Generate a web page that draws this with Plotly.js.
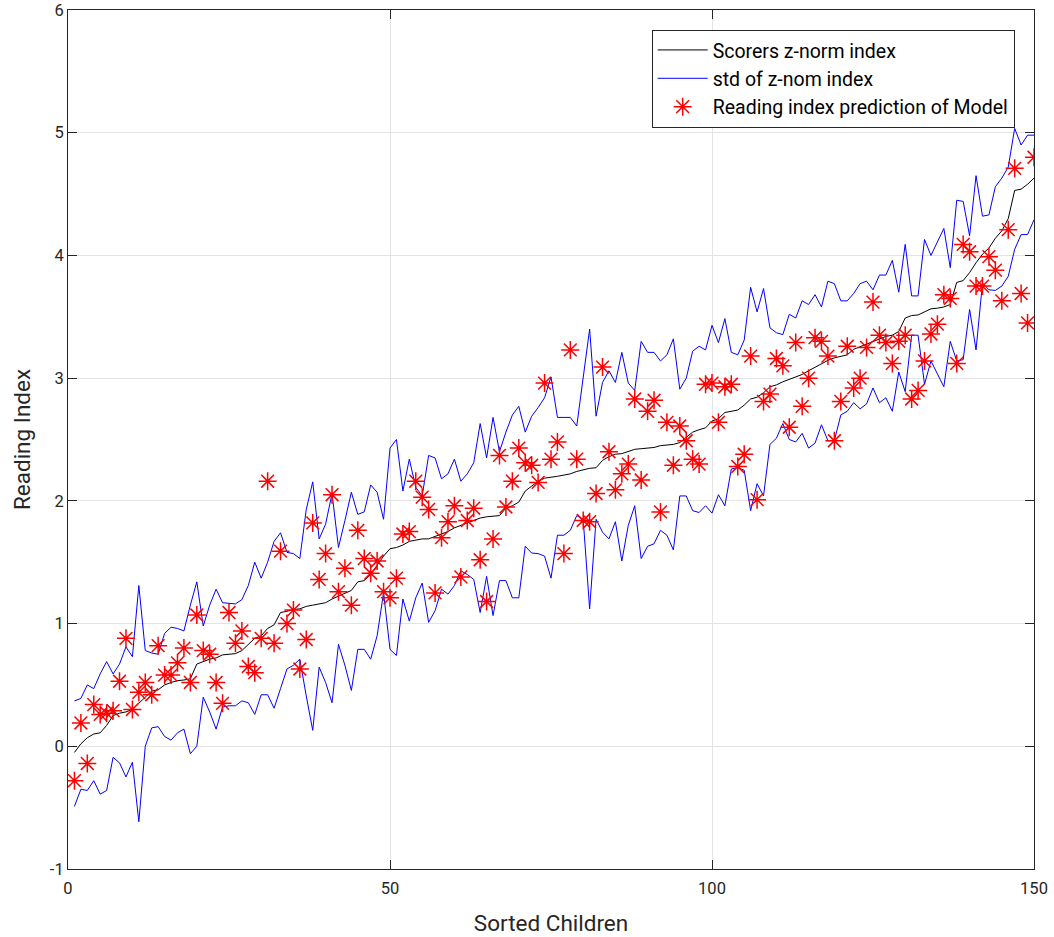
<!DOCTYPE html>
<html>
<head>
<meta charset="utf-8">
<script src="https://cdn.plot.ly/plotly-3.0.1.min.js"></script>
<style>html,body{margin:0;padding:0;background:#fff}#chart{width:1054px;height:937px}</style>
</head>
<body>
<div id="chart"></div>
<script>
// Sorted children index 1..150
const childIndex = Array.from({length: 150}, (_, k) => k + 1);

// Scorers z-norm index (black line)
const zNormIndex = [
-0.05,0.02,0.07,0.10,0.11,0.17,0.25,0.27,0.28,0.30,
0.35,0.40,0.45,0.46,0.50,0.52,0.535,0.54,0.55,0.67,
0.69,0.71,0.72,0.745,0.75,0.755,0.78,0.83,0.88,0.90,
0.96,0.99,1.09,1.10,1.115,1.12,1.14,1.15,1.16,1.17,
1.20,1.225,1.25,1.27,1.34,1.35,1.40,1.48,1.55,1.61,
1.62,1.64,1.67,1.68,1.69,1.69,1.71,1.73,1.75,1.78,
1.80,1.82,1.84,1.86,1.87,1.875,1.88,1.94,1.96,1.99,
2.08,2.12,2.16,2.185,2.19,2.20,2.21,2.22,2.24,2.255,
2.265,2.27,2.33,2.36,2.38,2.385,2.40,2.42,2.425,2.43,
2.435,2.45,2.455,2.46,2.475,2.52,2.56,2.58,2.595,2.65,
2.67,2.72,2.73,2.74,2.78,2.83,2.845,2.88,2.93,2.945,
2.97,2.99,3.01,3.03,3.06,3.09,3.12,3.145,3.165,3.18,
3.19,3.235,3.255,3.275,3.30,3.32,3.34,3.35,3.38,3.49,
3.51,3.515,3.54,3.565,3.57,3.58,3.60,3.78,3.795,3.86,
3.94,4.01,4.06,4.14,4.20,4.30,4.53,4.54,4.58,4.63];

// z-norm index + std (upper blue line)
const upperBand = [
0.37,0.39,0.50,0.47,0.59,0.69,0.59,0.67,0.81,0.73,
1.31,0.78,0.76,0.75,0.92,0.97,0.96,0.94,1.15,1.34,
0.98,1.15,1.28,1.17,1.165,1.16,1.195,1.31,1.50,1.37,
1.50,1.67,1.74,1.58,1.57,1.53,1.93,2.155,1.69,1.81,
2.06,1.62,1.84,2.07,1.89,1.91,2.13,2.07,1.85,2.43,
2.50,2.08,2.34,2.11,2.04,2.37,2.35,2.18,2.22,2.34,
2.16,2.22,2.31,2.63,2.35,2.68,2.40,2.56,2.70,2.77,
2.56,2.69,2.76,2.84,3.01,2.68,2.68,2.68,2.61,2.99,
3.40,2.69,2.965,3.06,2.965,3.21,2.96,2.90,3.30,3.21,
3.21,3.14,3.19,3.32,2.91,3.00,3.22,3.26,3.23,3.43,
3.29,3.485,3.21,3.19,3.31,3.74,3.54,3.73,3.41,3.37,
3.355,3.52,3.49,3.63,3.60,3.68,3.58,3.79,3.77,3.63,
3.63,3.69,3.77,3.79,3.72,3.84,3.84,3.96,3.70,4.09,
3.67,3.67,4.13,4.00,4.11,4.22,3.90,4.45,4.44,4.16,
4.65,4.32,4.33,4.56,4.63,4.72,5.035,4.90,4.98,4.98];

// z-norm index - std (lower blue line)
const lowerBand = [
-0.49,-0.35,-0.36,-0.28,-0.39,-0.36,-0.09,-0.135,-0.25,-0.13,
-0.615,0.0,0.15,0.16,0.08,0.05,0.11,0.14,-0.06,0.0,
0.40,0.28,0.14,0.32,0.33,0.33,0.37,0.355,0.26,0.42,
0.42,0.31,0.47,0.63,0.66,0.71,0.41,0.13,0.645,0.52,
0.355,0.83,0.66,0.455,0.79,0.79,0.71,0.90,1.25,0.79,
0.74,1.20,1.02,1.21,1.33,1.01,1.105,1.28,1.24,1.31,
1.43,1.40,1.36,1.09,1.385,1.065,1.35,1.35,1.21,1.21,
1.63,1.575,1.57,1.55,1.37,1.72,1.72,1.76,1.88,1.85,
1.12,1.85,1.745,1.69,1.83,1.51,1.80,1.96,1.53,1.63,
1.65,1.76,1.72,1.60,2.04,2.04,1.92,1.905,1.96,1.90,
2.05,1.96,2.26,2.27,2.25,1.92,2.14,2.04,2.46,2.51,
2.63,2.50,2.48,2.55,2.43,2.47,2.62,2.49,2.49,2.70,
2.73,2.80,2.75,2.79,2.92,2.80,2.84,2.73,3.05,2.89,
3.35,3.35,2.95,3.14,3.035,2.93,3.30,3.14,3.15,3.56,
3.23,3.775,3.72,3.715,3.75,3.83,4.05,4.17,4.17,4.29];

// Reading index prediction of Model (red stars)
const modelPrediction = [
-0.28,0.19,-0.14,0.34,0.26,0.27,0.29,0.53,0.88,0.30,
0.44,0.52,0.42,0.82,0.58,0.58,0.68,0.80,0.52,1.07,
0.78,0.75,0.52,0.35,1.09,0.84,0.94,0.65,0.60,0.88,
2.16,0.84,1.59,1.00,1.11,0.63,0.87,1.82,1.36,1.57,
2.05,1.26,1.45,1.15,1.76,1.53,1.41,1.51,1.26,1.21,
1.37,1.73,1.75,2.16,2.03,1.93,1.25,1.70,1.83,1.96,
1.38,1.84,1.94,1.52,1.18,1.69,2.37,1.95,2.16,2.43,
2.31,2.29,2.15,2.96,2.34,2.48,1.57,3.23,2.34,1.84,
1.83,2.06,3.09,2.40,2.09,2.22,2.30,2.83,2.17,2.73,
2.82,1.91,2.64,2.29,2.61,2.49,2.34,2.30,2.95,2.96,
2.64,2.93,2.95,2.28,2.38,3.18,2.01,2.81,2.87,3.16,
3.10,2.60,3.29,2.77,3.00,3.33,3.30,3.18,2.49,2.81,
3.26,2.92,3.00,3.25,3.62,3.35,3.29,3.12,3.30,3.35,
2.83,2.90,3.14,3.36,3.44,3.68,3.65,3.12,4.09,4.03,
3.75,3.75,3.99,3.88,3.63,4.21,4.71,3.69,3.45,4.80];

const xTickVals = [0, 50, 100, 150];
const xTickLabels = ['0', '50', '100', '150'];
const yTickVals = [-1, 0, 1, 2, 3, 4, 5, 6];
const yTickLabels = ['-1', '0', '1', '2', '3', '4', '5', '6'];

const seriesNames = ['Scorers z-norm index', 'std of z-nom index', 'Reading index prediction of Model'];

const traces = [
  {x: childIndex, y: zNormIndex, type: 'scatter', mode: 'lines', name: seriesNames[0],
   line: {color: '#000000', width: 1}},
  {x: childIndex, y: upperBand, type: 'scatter', mode: 'lines', name: seriesNames[1],
   legendgroup: 'std', line: {color: '#0000ff', width: 1}},
  {x: childIndex, y: lowerBand, type: 'scatter', mode: 'lines', name: seriesNames[1],
   legendgroup: 'std', showlegend: false, line: {color: '#0000ff', width: 1}},
  {x: childIndex, y: modelPrediction, type: 'scatter', mode: 'markers', name: seriesNames[2],
   marker: {symbol: 'asterisk-open', size: 15, color: '#ff0000', line: {color: '#ff0000', width: 1.5}}}
];

const axisCommon = {
  showline: true, mirror: 'ticks', linecolor: '#262626', linewidth: 1,
  ticks: 'inside', ticklen: 9, tickwidth: 1, tickcolor: '#262626',
  showgrid: true, gridcolor: '#e3e3e3', gridwidth: 1, zeroline: false,
  ticklabeloverflow: 'allow',
  tickfont: {family: 'Roboto, Arial, sans-serif', size: 16.5, color: '#262626'}
};

const layout = {
  width: 1054, height: 937,
  margin: {l: 68, r: 20, t: 10, b: 68},
  paper_bgcolor: '#ffffff', plot_bgcolor: '#ffffff',
  showlegend: true,
  font: {family: 'Roboto, Arial, sans-serif', color: '#262626'},
  xaxis: Object.assign({}, axisCommon, {
    range: [0, 150], tickmode: 'array', tickvals: xTickVals, ticktext: xTickLabels,
    ticklabelstandoff: 4,
    title: {text: 'Sorted Children', font: {family: 'Roboto, Arial, sans-serif', size: 22.5, color: '#262626'}, standoff: 18}
  }),
  yaxis: Object.assign({}, axisCommon, {
    range: [-1, 6], tickmode: 'array', tickvals: yTickVals, ticktext: yTickLabels,
    title: {text: 'Reading Index', font: {family: 'Roboto, Arial, sans-serif', size: 22.5, color: '#262626'}, standoff: 12}
  }),
  legend: {
    x: 0.98, xanchor: 'right', y: 0.977, yanchor: 'top',
    bgcolor: '#ffffff', bordercolor: '#262626', borderwidth: 1,
    font: {family: 'Roboto, Arial, sans-serif', size: 19.5, color: '#000000'},
    tracegroupgap: 0, itemwidth: 50
  }
};

Plotly.newPlot('chart', traces, layout, {displayModeBar: false, staticPlot: true});
</script>
</body>
</html>
